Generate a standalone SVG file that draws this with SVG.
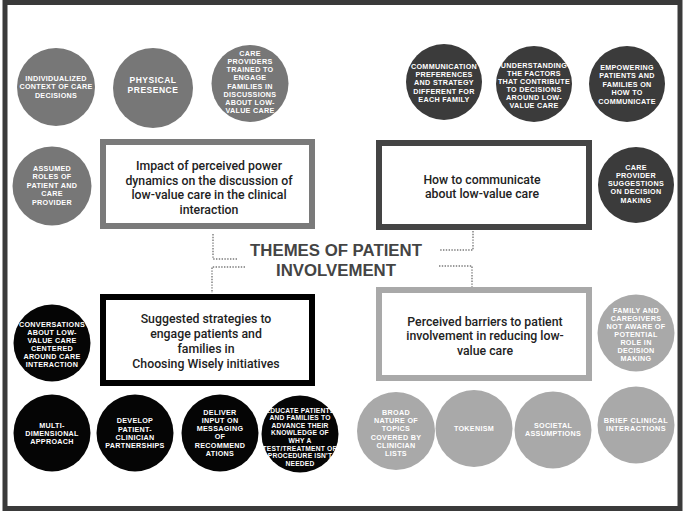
<svg xmlns="http://www.w3.org/2000/svg" width="685" height="513" viewBox="0 0 685 513">
<style>
.bg{fill:#ffffff}
.frame{fill:none;stroke:#3a3a3a;stroke-width:5}
.box{fill:#ffffff;stroke-width:6}
.bt{font-family:Roboto,"Liberation Sans",sans-serif;font-weight:500;font-size:12.3px;fill:#222;text-anchor:middle}
.title{font-family:"Liberation Sans",Arial,sans-serif;font-weight:700;font-size:16.8px;fill:#444;text-anchor:middle}
.ct{font-family:"Liberation Sans",Arial,sans-serif;font-weight:700;font-size:7.2px;letter-spacing:0.3px;fill:#fff;text-anchor:middle}
.c1{fill:#777777}
.c2{fill:#3b3b3b}
.c3{fill:#050505}
.c4{fill:#a9a9a9}
.dot{fill:none;stroke:#7a7a7a;stroke-width:1.4;stroke-dasharray:1.4 1.4}
</style>
<rect class="bg" x="0" y="0" width="685" height="513"/>
<rect class="frame" x="5" y="2.5" width="675" height="506"/>

<g id="title">
<text class="title"><tspan x="336" y="256.3">THEMES OF PATIENT</tspan><tspan x="336" y="276.3">INVOLVEMENT</tspan></text>
</g>

<g id="connectors">
<path class="dot" d="M213,234 V259 H238"/>
<path class="dot" d="M245,267 H212 V293"/>
<path class="dot" d="M473,231 V250 H439"/>
<path class="dot" d="M439,266 H472 V287"/>
</g>

<g id="box-power">
<rect class="box" x="103" y="142" width="209" height="84" stroke="#7a7a7a"/>
<text class="bt"><tspan x="209" y="170">Impact of perceived power</tspan><tspan x="209" y="184.5">dynamics on the discussion of</tspan><tspan x="209" y="199">low-value care in the clinical</tspan><tspan x="209" y="213.5">interaction</tspan></text>
</g>

<g id="box-communicate">
<rect class="box" x="379" y="143" width="210" height="84" stroke="#444"/>
<text class="bt"><tspan x="482" y="183.5">How to communicate</tspan><tspan x="482" y="198">about low-value care</tspan></text>
</g>

<g id="box-strategies">
<rect class="box" x="103" y="297" width="209" height="86" stroke="#000"/>
<text class="bt"><tspan x="206" y="322.5">Suggested strategies to</tspan><tspan x="206" y="337.5">engage patients and</tspan><tspan x="206" y="352.5">families in</tspan><tspan x="206" y="367.5">Choosing Wisely initiatives</tspan></text>
</g>

<g id="box-barriers">
<rect class="box" x="379" y="290" width="210" height="88" stroke="#a9a9a9"/>
<text class="bt"><tspan x="485" y="325.5">Perceived barriers to patient</tspan><tspan x="485" y="340">involvement in reducing low-</tspan><tspan x="485" y="354.5">value care</tspan></text>
</g>

<g id="c-individualized">
<circle class="c1" cx="56" cy="87" r="39"/>
<text class="ct"><tspan x="56" y="80.8">INDIVIDUALIZED</tspan><tspan x="56" y="89.3">CONTEXT OF CARE</tspan><tspan x="56" y="97.8">DECISIONS</tspan></text>
</g>
<g id="c-physical">
<circle class="c1" cx="153" cy="88" r="40"/>
<text class="ct" style="font-size:8.5px;letter-spacing:0.5px"><tspan x="153" y="83.3">PHYSICAL</tspan><tspan x="153" y="92.8">PRESENCE</tspan></text>
</g>
<g id="c-trained">
<circle class="c1" cx="250" cy="83.5" r="38.5"/>
<text class="ct"><tspan x="250" y="56.1">CARE</tspan><tspan x="250" y="64.2">PROVIDERS</tspan><tspan x="250" y="72.3">TRAINED TO</tspan><tspan x="250" y="80.4">ENGAGE</tspan><tspan x="250" y="88.5">FAMILIES IN</tspan><tspan x="250" y="96.6">DISCUSSIONS</tspan><tspan x="250" y="104.7">ABOUT LOW-</tspan><tspan x="250" y="112.8">VALUE CARE</tspan></text>
</g>
<g id="c-assumed">
<circle class="c1" cx="52" cy="186" r="39.5"/>
<text class="ct"><tspan x="52" y="170.8">ASSUMED</tspan><tspan x="52" y="179.3">ROLES OF</tspan><tspan x="52" y="187.8">PATIENT AND</tspan><tspan x="52" y="196.3">CARE</tspan><tspan x="52" y="204.8">PROVIDER</tspan></text>
</g>

<g id="c-preferences">
<circle class="c2" cx="444" cy="82" r="38"/>
<text class="ct"><tspan x="444" y="69.2">COMMUNICATION</tspan><tspan x="444" y="77.3">PREFERENCES</tspan><tspan x="444" y="85.4">AND STRATEGY</tspan><tspan x="444" y="93.5">DIFFERENT FOR</tspan><tspan x="444" y="101.6">EACH FAMILY</tspan></text>
</g>
<g id="c-understanding">
<circle class="c2" cx="534" cy="84" r="38"/>
<text class="ct"><tspan x="534" y="67.8">UNDERSTANDING</tspan><tspan x="534" y="75.9">THE FACTORS</tspan><tspan x="534" y="84">THAT CONTRIBUTE</tspan><tspan x="534" y="92.1">TO DECISIONS</tspan><tspan x="534" y="100.2">AROUND LOW-</tspan><tspan x="534" y="108.3">VALUE CARE</tspan></text>
</g>
<g id="c-empowering">
<circle class="c2" cx="627" cy="84" r="38"/>
<text class="ct"><tspan x="627" y="69.5">EMPOWERING</tspan><tspan x="627" y="78">PATIENTS AND</tspan><tspan x="627" y="86.5">FAMILIES ON</tspan><tspan x="627" y="95">HOW TO</tspan><tspan x="627" y="103.5">COMMUNICATE</tspan></text>
</g>
<g id="c-suggestions">
<circle class="c2" cx="636" cy="185" r="38"/>
<text class="ct"><tspan x="636" y="169.5">CARE</tspan><tspan x="636" y="177.8">PROVIDER</tspan><tspan x="636" y="186.1">SUGGESTIONS</tspan><tspan x="636" y="194.4">ON DECISION</tspan><tspan x="636" y="202.7">MAKING</tspan></text>
</g>

<g id="c-conversations">
<circle class="c3" cx="52" cy="343" r="38.5"/>
<text class="ct"><tspan x="52" y="326.6">CONVERSATIONS</tspan><tspan x="52" y="334.7">ABOUT LOW-</tspan><tspan x="52" y="342.8">VALUE CARE</tspan><tspan x="52" y="350.9">CENTERED</tspan><tspan x="52" y="359">AROUND CARE</tspan><tspan x="52" y="367.1">INTERACTION</tspan></text>
</g>
<g id="c-multi">
<circle class="c3" cx="52" cy="433" r="38.5"/>
<text class="ct"><tspan x="52" y="427.8">MULTI-</tspan><tspan x="52" y="436.1">DIMENSIONAL</tspan><tspan x="52" y="444.4">APPROACH</tspan></text>
</g>
<g id="c-partnerships">
<circle class="c3" cx="135" cy="433" r="38.5"/>
<text class="ct"><tspan x="135" y="423.3">DEVELOP</tspan><tspan x="135" y="431.6">PATIENT-</tspan><tspan x="135" y="439.9">CLINICIAN</tspan><tspan x="135" y="448.2">PARTNERSHIPS</tspan></text>
</g>
<g id="c-deliver">
<circle class="c3" cx="220" cy="433" r="38.5"/>
<text class="ct"><tspan x="220" y="414.5">DELIVER</tspan><tspan x="220" y="422.8">INPUT ON</tspan><tspan x="220" y="431.1">MESSAGING</tspan><tspan x="220" y="439.4">OF</tspan><tspan x="220" y="447.7">RECOMMEND</tspan><tspan x="220" y="456">ATIONS</tspan></text>
</g>
<g id="c-educate">
<circle class="c3" cx="300" cy="434" r="38.5"/>
<text class="ct" style="font-size:6.7px;letter-spacing:0.2px"><tspan x="300" y="412.5">EDUCATE PATIENTS</tspan><tspan x="300" y="420.1">AND FAMILIES TO</tspan><tspan x="300" y="427.7">ADVANCE THEIR</tspan><tspan x="300" y="435.3">KNOWLEDGE OF</tspan><tspan x="300" y="442.9">WHY A</tspan><tspan x="300" y="450.5">TEST/TREATMENT OR</tspan><tspan x="300" y="458.1">PROCEDURE ISN'T</tspan><tspan x="300" y="465.7">NEEDED</tspan></text>
</g>

<g id="c-family">
<circle class="c4" cx="636" cy="333" r="38.5"/>
<text class="ct"><tspan x="636" y="312.6">FAMILY AND</tspan><tspan x="636" y="320.7">CAREGIVERS</tspan><tspan x="636" y="328.8">NOT AWARE OF</tspan><tspan x="636" y="336.9">POTENTIAL</tspan><tspan x="636" y="345">ROLE IN</tspan><tspan x="636" y="353.1">DECISION</tspan><tspan x="636" y="361.2">MAKING</tspan></text>
</g>
<g id="c-broad">
<circle class="c4" cx="396" cy="431" r="39"/>
<text class="ct"><tspan x="396" y="415.2">BROAD</tspan><tspan x="396" y="423.3">NATURE OF</tspan><tspan x="396" y="431.4">TOPICS</tspan><tspan x="396" y="439.5">COVERED BY</tspan><tspan x="396" y="447.6">CLINICIAN</tspan><tspan x="396" y="455.7">LISTS</tspan></text>
</g>
<g id="c-tokenism">
<circle class="c4" cx="474" cy="428.5" r="38.5"/>
<text class="ct"><tspan x="474" y="431.1">TOKENISM</tspan></text>
</g>
<g id="c-societal">
<circle class="c4" cx="553" cy="430" r="38.5"/>
<text class="ct"><tspan x="553" y="427.8">SOCIETAL</tspan><tspan x="553" y="436.1">ASSUMPTIONS</tspan></text>
</g>
<g id="c-brief">
<circle class="c4" cx="636" cy="425" r="38.5"/>
<text class="ct" style="font-size:7.3px;letter-spacing:0.45px"><tspan x="636" y="422.9">BRIEF CLINICAL</tspan><tspan x="636" y="431.1">INTERACTIONS</tspan></text>
</g>
</svg>
